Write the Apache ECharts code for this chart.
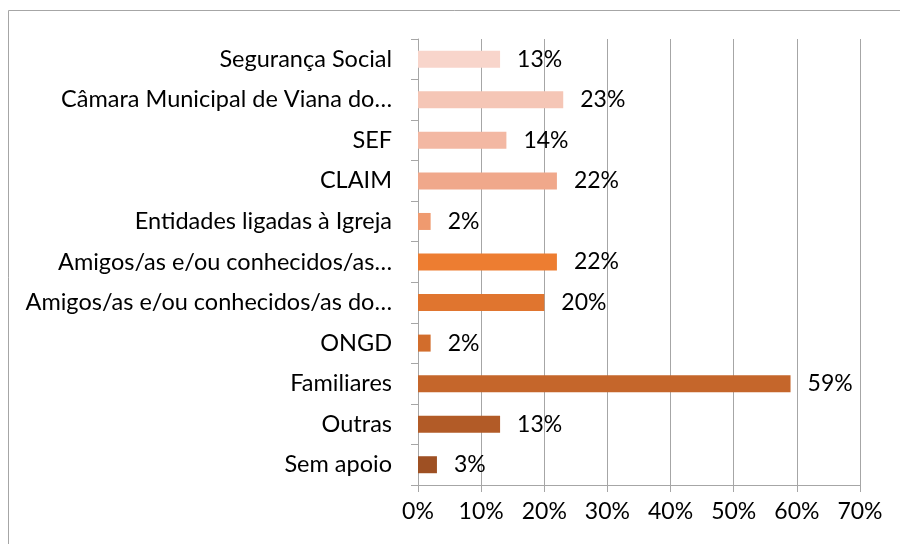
<!DOCTYPE html>
<html>
<head>
<meta charset="utf-8">
<script src="https://cdn.jsdelivr.net/npm/echarts@6/dist/echarts.min.js"></script>
<style>
  html, body { margin: 0; padding: 0; background: #fff; }
  #main { width: 900px; height: 544px; }
</style>
</head>
<body>
<div id="main"></div>
<script>
// categorias (de cima para baixo)
var categories = [
  'Segurança Social',
  'Câmara Municipal de Viana do…',
  'SEF',
  'CLAIM',
  'Entidades ligadas à Igreja',
  'Amigos/as e/ou conhecidos/as…',
  'Amigos/as e/ou conhecidos/as do…',
  'ONGD',
  'Familiares',
  'Outras',
  'Sem apoio'
];
var values = [13, 23, 14, 22, 2, 22, 20, 2, 59, 13, 3];
var barColors = ['#f8d5cb', '#f5c6b6', '#f3b8a3', '#f0a88b', '#ef9a6f', '#ed7d31',
                 '#e0752f', '#d26d2c', '#c5662b', '#b25b27', '#9e5023'];
var xTicks = [0, 10, 20, 30, 40, 50, 60, 70];

var fontFam = 'Lato, sans-serif';

var myChart = echarts.init(document.getElementById('main'));
myChart.setOption({
  animation: false,
  graphic: [{
    type: 'rect',
    shape: { x: 8.5, y: 10.5, width: 950, height: 600 },
    style: { fill: 'none', stroke: '#a6a6a6', lineWidth: 1 }
  }],
  grid: { left: 418, right: 40, top: 39, bottom: 59 },
  xAxis: {
    type: 'value',
    min: xTicks[0],
    max: xTicks[xTicks.length - 1],
    interval: 10,
    axisLine: { show: true, lineStyle: { color: '#a6a6a6', width: 1 } },
    axisTick: { show: true, length: 7, lineStyle: { color: '#a6a6a6' } },
    splitLine: { show: true, lineStyle: { color: '#a6a6a6', width: 1 } },
    axisLabel: {
      margin: 15,
      color: '#000',
      fontSize: 23,
      fontFamily: fontFam,
      formatter: '{value}%'
    }
  },
  yAxis: {
    type: 'category',
    inverse: true,
    data: categories,
    axisLine: { show: true, lineStyle: { color: '#a6a6a6', width: 1 } },
    axisTick: { show: true, length: 7, lineStyle: { color: '#a6a6a6' } },
    axisLabel: {
      margin: 26,
      color: '#000',
      fontSize: 23.5,
      fontFamily: fontFam
    }
  },
  series: [{
    type: 'bar',
    barWidth: 17,
    data: values.map(function (v, i) {
      return { value: v, itemStyle: { color: barColors[i] } };
    }),
    label: {
      show: true,
      position: 'right',
      distance: 17,
      color: '#000',
      fontSize: 23,
      fontFamily: fontFam,
      formatter: '{c}%'
    }
  }]
});
</script>
</body>
</html>
